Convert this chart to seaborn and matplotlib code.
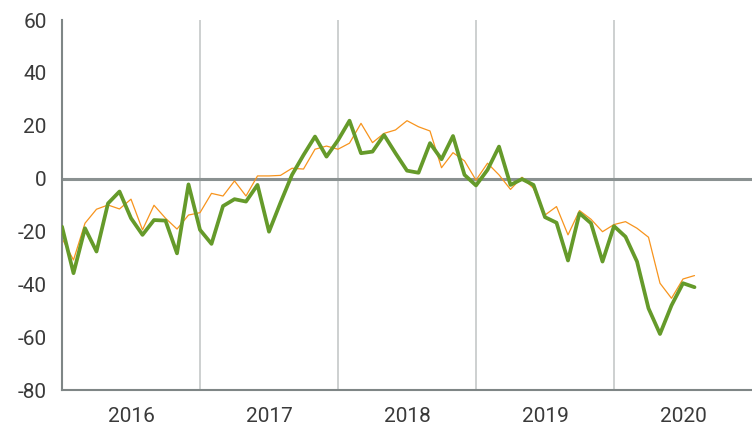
import pandas as pd
import matplotlib.pyplot as plt
import seaborn as sns

# monthly values, Jan 2016 .. Aug 2020
green_vals = [-18.2, -35.8, -18.8, -27.6, -9.4, -4.9, -15.0, -21.3, -15.7, -15.9, -28.3, -2.2,
              -19.4, -24.7, -10.4, -7.8, -8.7, -2.4, -20.1, -9.1, 1.4, 8.9, 15.9, 8.3,
              14.5, 21.9, 9.6, 10.2, 16.5, 9.6, 3.0, 2.2, 13.4, 7.3, 16.1, 1.4,
              -2.6, 3.3, 12.1, -2.4, -0.2, -2.4, -14.6, -16.7, -31.0, -13.1, -16.9, -31.4,
              -18.0, -22.0, -31.4, -49.1, -58.8, -48.0, -39.6, -41.1]
orange_vals = [-22.6, -30.8, -16.9, -11.6, -10.0, -11.5, -7.8, -19.4, -10.1, -15.0, -19.1, -13.8,
               -12.9, -5.6, -6.6, -0.9, -6.6, 1.0, 1.0, 1.2, 3.9, 3.6, 11.1, 12.3,
               11.1, 13.4, 20.9, 13.6, 17.1, 18.4, 21.9, 19.6, 18.0, 4.1, 9.8, 6.7,
               -0.6, 5.8, 1.4, -4.1, 0.5, -3.7, -13.8, -10.6, -21.3, -12.1, -15.4, -20.1,
               -17.4, -16.3, -18.8, -22.2, -39.6, -45.3, -38.0, -36.7]
years = ["2016", "2017", "2018", "2019", "2020"]
y_ticks = [-80, -60, -40, -20, 0, 20, 40, 60]

df = pd.DataFrame({"month": range(len(green_vals)), "green": green_vals, "orange": orange_vals})

sns.set_style("white")
plt.rcParams["font.family"] = ["Liberation Sans Narrow", "Roboto", "DejaVu Sans"]

fig = plt.figure(figsize=(7.52, 4.26), dpi=100)
ax = fig.add_axes([62 / 752, 1 - 390 / 426, 1 - 62 / 752, 370 / 426])

axis_grey = "#7f8686"

# year dividers
for b in range(12, 60, 12):
    ax.axvline(b, color="#c9cdcd", lw=1.3, zorder=0)
ax.axhline(0, color="#8a9191", lw=2.2, zorder=1)

sns.lineplot(data=df, x="month", y="orange", color="#f7941d", lw=0.9, ax=ax, zorder=2)
sns.lineplot(data=df, x="month", y="green", color="#659a2a", lw=2.7, ax=ax, zorder=3)

ax.set_xlim(0, 60)
ax.set_ylim(-80, 60)
ax.set_yticks(y_ticks)
ax.set_yticklabels([str(v) for v in y_ticks])
ax.set_xticks([6 + 12 * i for i in range(len(years))])
ax.set_xticklabels(years)
ax.set_xlabel("")
ax.set_ylabel("")

for side in ["top", "right"]:
    ax.spines[side].set_visible(False)
for side in ["left", "bottom"]:
    ax.spines[side].set_color(axis_grey)
    ax.spines[side].set_linewidth(1.5)

ax.tick_params(axis="y", length=7, width=1.3, color=axis_grey, labelsize=15, labelcolor="#3a3a3a", pad=4)
ax.tick_params(axis="x", length=0, labelsize=15, labelcolor="#3a3a3a", pad=12)

fig.savefig("out.png", dpi=100)
plt.close(fig)
